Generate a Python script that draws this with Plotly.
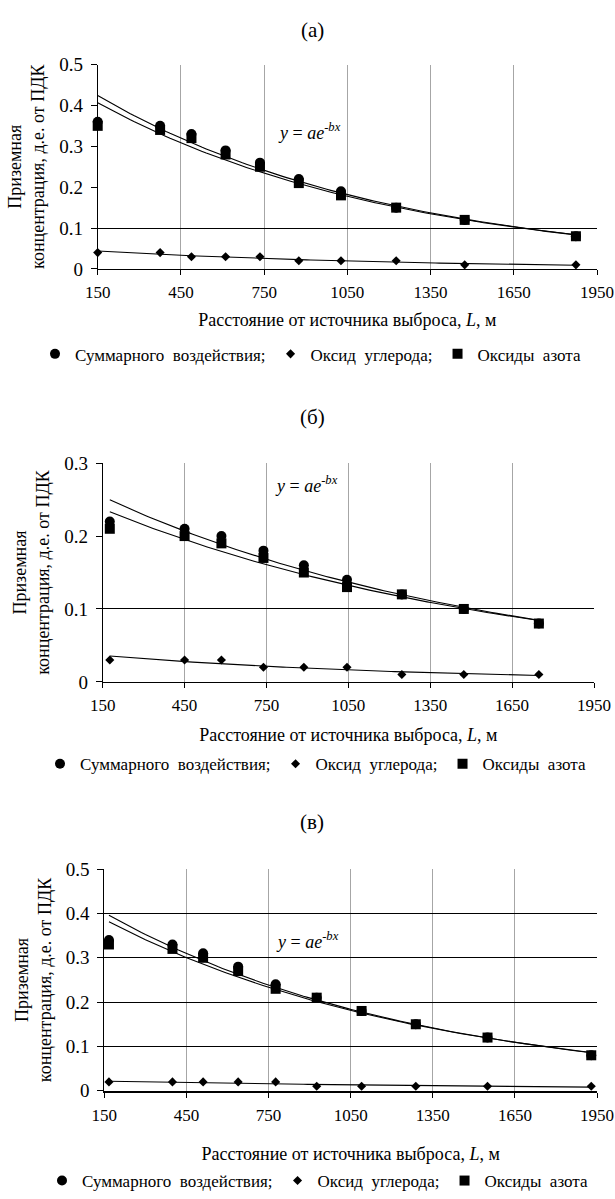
import numpy as np
import plotly.graph_objects as go

FONT = "Liberation Serif"

# ---------------- data ----------------
# panel (а)
dist_a = [150, 375, 488, 611, 735, 875, 1027, 1226, 1473, 1874]
sum_a = [0.36, 0.35, 0.33, 0.29, 0.26, 0.22, 0.19, 0.15, 0.12, 0.08]
co_a = [0.04, 0.04, 0.03, 0.03, 0.03, 0.02, 0.02, 0.02, 0.01, 0.01]
nox_a = [0.35, 0.34, 0.32, 0.28, 0.25, 0.21, 0.18, 0.15, 0.12, 0.08]

# panel (б)
dist_b = [176, 450, 585, 739, 887, 1045, 1246, 1473, 1748]
sum_b = [0.22, 0.21, 0.20, 0.18, 0.16, 0.14, 0.12, 0.10, 0.08]
co_b = [0.03, 0.03, 0.03, 0.02, 0.02, 0.02, 0.01, 0.01, 0.01]
nox_b = [0.21, 0.20, 0.19, 0.17, 0.15, 0.13, 0.12, 0.10, 0.08]

# panel (в)
dist_c = [167, 399, 511, 639, 776, 926, 1090, 1288, 1550, 1929]
sum_c = [0.34, 0.33, 0.31, 0.28, 0.24, 0.21, 0.18, 0.15, 0.12, 0.08]
co_c = [0.02, 0.02, 0.02, 0.02, 0.02, 0.01, 0.01, 0.01, 0.01, 0.01]
nox_c = [0.33, 0.32, 0.30, 0.27, 0.23, 0.21, 0.18, 0.15, 0.12, 0.08]

x_ticks = [150, 450, 750, 1050, 1350, 1650, 1950]
x_grid_a = [450, 750, 1050, 1350, 1650]
x_grid_bc = [450, 750, 1050, 1350, 1650, 1950]
y_ticks_05 = [0, 0.1, 0.2, 0.3, 0.4, 0.5]
y_ticks_03 = [0, 0.1, 0.2, 0.3]
y_tick_text_05 = ["0", "0.1", "0.2", "0.3", "0.4", "0.5"]
y_tick_text_03 = ["0", "0.1", "0.2", "0.3"]
y_grid_a = [0.1, 0.5]
y_grid_b = [0.1]
y_grid_c = [0.1, 0.2, 0.3, 0.4, 0.5]

panel_titles = ["(а)", "(б)", "(в)"]
NB = "\u00a0"
series_names = ["Суммарного" + NB * 2 + "воздействия;",
                "Оксид" + NB * 2 + "углерода;",
                "Оксиды" + NB * 2 + "азота"]
x_title = "Расстояние от источника выброса, <i>L</i>, м"
y_title = "Приземная<br>концентрация, д.е. от ПДК"
eq_text = "<i>y</i> = <i>ae</i><sup><i>-bx</i></sup>"

W, H = 615, 1199


def px(v, total):
    return v / total


def py(v):
    return 1 - v / H


def expfit(x, y):
    x = np.asarray(x, float)
    y = np.asarray(y, float)
    b, lna = np.polyfit(x, np.log(y), 1)
    xs = np.linspace(x.min(), x.max(), 120)
    return xs, np.exp(lna + b * xs)


panels = [
    dict(x=dist_a, s=sum_a, co=co_a, n=nox_a, ymax=0.5, yt=y_ticks_05, ytt=y_tick_text_05,
         dom_x=(97.7, 597), dom_y=(65, 271), ygrid=y_grid_a, xgrid=x_grid_a,
         xstand=12, eq=(915, 0.335), title_y=30, leg_y=357, leg_x=35, zero_w=1),
    dict(x=dist_b, s=sum_b, co=co_b, n=nox_b, ymax=0.3, yt=y_ticks_03, ytt=y_tick_text_03,
         dom_x=(102.7, 594), dom_y=(466.7, 687), ygrid=y_grid_b, xgrid=x_grid_bc,
         xstand=14, eq=(895, 0.271), title_y=420, leg_y=770, leg_x=40, zero_w=1),
    dict(x=dist_c, s=sum_c, co=co_c, n=nox_c, ymax=0.5, yt=y_ticks_05, ytt=y_tick_text_05,
         dom_x=(104.3, 597), dom_y=(875.7, 1099), ygrid=y_grid_c, xgrid=x_grid_bc,
         xstand=23, eq=(894, 0.34), title_y=828, leg_y=1190, leg_x=42, zero_w=2),
]

fig = go.Figure()
layout = dict(
    width=W, height=H,
    margin=dict(l=0, r=0, t=0, b=0),
    paper_bgcolor="white", plot_bgcolor="white",
    font=dict(family=FONT, size=18, color="black"),
    showlegend=True,
)
annotations = []

for i, p in enumerate(panels):
    k = "" if i == 0 else str(i + 1)
    xa, ya = "x" + k, "y" + k
    leg = "legend" + k

    # fitted exponential trend lines (drawn first, below markers)
    for ser in (p["s"], p["n"], p["co"]):
        xs, ys = expfit(p["x"], ser)
        fig.add_trace(go.Scatter(x=xs, y=ys, mode="lines", xaxis=xa, yaxis=ya,
                                 line=dict(color="black", width=1.1),
                                 showlegend=False, hoverinfo="skip"))

    fig.add_trace(go.Scatter(x=p["x"], y=p["s"], mode="markers", name=series_names[0],
                             xaxis=xa, yaxis=ya, legend=leg, cliponaxis=False,
                             marker=dict(symbol="circle", size=10, color="black")))
    fig.add_trace(go.Scatter(x=p["x"], y=p["co"], mode="markers", name=series_names[1],
                             xaxis=xa, yaxis=ya, legend=leg, cliponaxis=False,
                             marker=dict(symbol="diamond", size=7, color="black")))
    fig.add_trace(go.Scatter(x=p["x"], y=p["n"], mode="markers", name=series_names[2],
                             xaxis=xa, yaxis=ya, legend=leg, cliponaxis=False,
                             marker=dict(symbol="square", size=10, color="black")))

    layout["xaxis" + k] = dict(
        domain=[px(p["dom_x"][0], W), px(p["dom_x"][1], W)],
        anchor=ya, range=[150, 1950], tickmode="array", tickvals=x_ticks,
        showgrid=False, zeroline=False,
        minor=dict(tickmode="array", tickvals=p["xgrid"], ticks="inside", ticklen=0,
                   showgrid=True, gridcolor="#a6a6a6", gridwidth=1),
        showline=True, linecolor="black", linewidth=p["zero_w"],
        ticks="outside", ticklen=5, tickcolor="black", tickwidth=1,
        tickfont=dict(family=FONT, size=17), ticklabelstandoff=3,
        title=dict(text=x_title, font=dict(family=FONT, size=18), standoff=p["xstand"]),
        automargin=False, fixedrange=True,
    )
    layout["yaxis" + k] = dict(
        domain=[py(p["dom_y"][1]), py(p["dom_y"][0])],
        anchor=xa, range=[0, p["ymax"]], tickmode="array", tickvals=p["yt"], ticktext=p["ytt"],
        showgrid=False, zeroline=False,
        minor=dict(tickmode="array", tickvals=p["ygrid"], ticks="inside", ticklen=0,
                   showgrid=True, gridcolor="black", gridwidth=1),
        showline=True, linecolor="black", linewidth=1,
        ticks="outside", ticklen=6, tickcolor="black", tickwidth=1,
        tickfont=dict(family=FONT, size=19), ticklabelstandoff=4,
        title=dict(text=y_title, font=dict(family=FONT, size=18), standoff=9),
        automargin=False, fixedrange=True,
    )
    layout[leg] = dict(
        orientation="h", x=px(p["leg_x"], W), y=py(p["leg_y"]), xanchor="left", yanchor="middle",
        font=dict(family=FONT, size=17), itemwidth=30, bgcolor="rgba(0,0,0,0)",
        itemclick=False, itemdoubleclick=False,
    )
    annotations.append(dict(text=eq_text, x=p["eq"][0], y=p["eq"][1], xref=xa, yref=ya,
                            xanchor="center", yanchor="middle",
                            showarrow=False, font=dict(family=FONT, size=18)))
    annotations.append(dict(text=panel_titles[i], x=px(312, W), y=py(p["title_y"]),
                            xref="paper", yref="paper", xanchor="center", yanchor="middle",
                            showarrow=False, font=dict(family=FONT, size=21)))

layout["annotations"] = annotations
fig.update_layout(**layout)
fig.write_html("out.html", config={"displayModeBar": False},
               post_script="document.body.style.margin='0';document.body.style.overflow='hidden';")
